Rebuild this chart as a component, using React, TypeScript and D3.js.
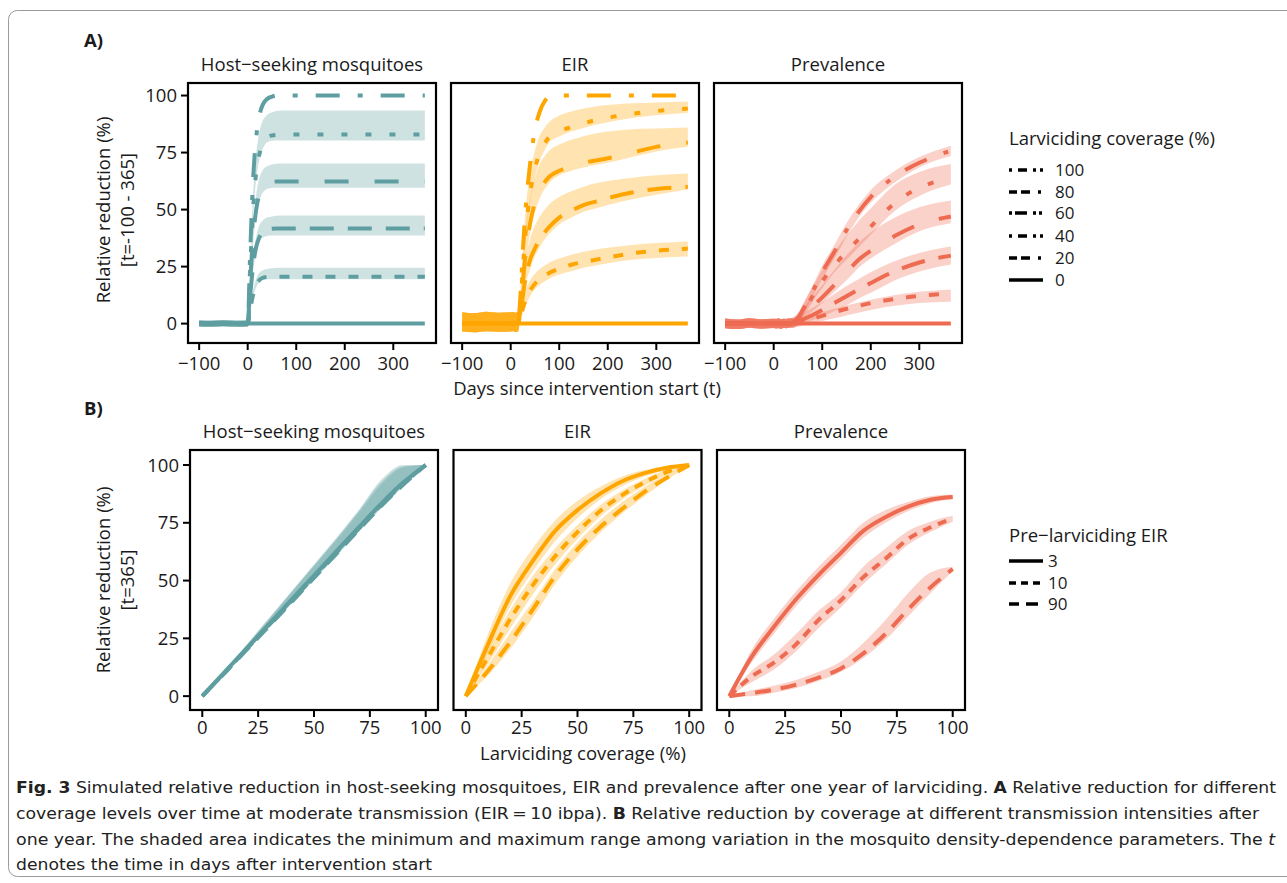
import React from "react";
import * as d3 from "d3";

// ---------- Panel A: reduction over time (EIR = 10) ----------
const days = [-100, -75, -50, -25, 0, 5, 10, 15, 20, 25, 30, 40, 50, 60, 70, 80, 100, 125, 150, 175, 200, 250, 300, 365];
const coverageLevels = ["100", "80", "60", "40", "20", "0"];

const hostLines = [
  [0, 0, 0, 0, 0, 30, 58, 76, 86, 92, 95.5, 98.5, 99.5, 100, 100, 100, 100, 100, 100, 100, 100, 100, 100, 100],
  [0, 0, 0, 0, 0, 24, 46, 61, 70, 75, 78.5, 81.5, 82.5, 82.8, 82.9, 82.9, 82.9, 82.9, 82.9, 82.9, 82.9, 82.9, 82.9, 82.9],
  [0, 0, 0, 0, 0, 18, 35, 46, 53, 57, 59.5, 61.5, 62.1, 62.3, 62.3, 62.3, 62.3, 62.3, 62.3, 62.3, 62.3, 62.3, 62.3, 62.3],
  [0, 0, 0, 0, 0, 12, 23, 31, 35.5, 38.3, 40, 41.2, 41.6, 41.7, 41.7, 41.7, 41.7, 41.7, 41.7, 41.7, 41.7, 41.7, 41.7, 41.7],
  [0, 0, 0, 0, 0, 6, 11.5, 15.5, 18, 19.3, 20, 20.5, 20.6, 20.6, 20.6, 20.6, 20.6, 20.6, 20.6, 20.6, 20.6, 20.6, 20.6, 20.6],
  [0, 0, 0, 0, 0, 0, 0, 0, 0, 0, 0, 0, 0, 0, 0, 0, 0, 0, 0, 0, 0, 0, 0, 0],
];
const hostHi = [
  [1.4, 1.3, 1.5, 1.3, 1.4, 30, 58, 76, 86, 92, 95.5, 98.5, 99.5, 100, 100, 100, 100, 100, 100, 100, 100, 100, 100, 100],
  [1.4, 1.3, 1.5, 1.3, 1.4, 27, 52, 69, 79, 85, 88.5, 91.5, 92.7, 93.2, 93.4, 93.4, 93.4, 93.4, 93.4, 93.4, 93.4, 93.4, 93.4, 93.4],
  [1.4, 1.3, 1.5, 1.3, 1.4, 20, 39, 52, 60, 64.5, 67, 69, 69.8, 70.1, 70.2, 70.2, 70.2, 70.2, 70.2, 70.2, 70.2, 70.2, 70.2, 70.2],
  [1.4, 1.3, 1.5, 1.3, 1.4, 13, 26, 35, 40.5, 43.5, 45, 46.5, 47, 47.3, 47.4, 47.4, 47.4, 47.4, 47.4, 47.4, 47.4, 47.4, 47.4, 47.4],
  [1.4, 1.3, 1.5, 1.3, 1.4, 7, 13.5, 18, 21, 22.5, 23.3, 24, 24.3, 24.5, 24.5, 24.5, 24.5, 24.5, 24.5, 24.5, 24.5, 24.5, 24.5, 24.5],
  [1.4, 1.3, 1.5, 1.3, 1.4, 0, 0, 0, 0, 0, 0, 0, 0, 0, 0, 0, 0, 0, 0, 0, 0, 0, 0, 0],
];
const hostLo = [
  [-1.3, -1.4, -1.2, -1.4, -1.3, 30, 58, 76, 86, 92, 95.5, 98.5, 99.5, 100, 100, 100, 100, 100, 100, 100, 100, 100, 100, 100],
  [-1.3, -1.4, -1.2, -1.4, -1.3, 22, 43, 58, 67, 72.5, 76, 79.5, 80.2, 80.3, 80.3, 80.3, 80.3, 80.3, 80.3, 80.3, 80.3, 80.3, 80.3, 80.3],
  [-1.3, -1.4, -1.2, -1.4, -1.3, 16, 32, 43, 50, 54.5, 57, 59, 59.5, 59.6, 59.6, 59.6, 59.6, 59.6, 59.6, 59.6, 59.6, 59.6, 59.6, 59.6],
  [-1.3, -1.4, -1.2, -1.4, -1.3, 10.5, 21, 28.5, 33, 36, 37.5, 38.4, 38.6, 38.6, 38.6, 38.6, 38.6, 38.6, 38.6, 38.6, 38.6, 38.6, 38.6, 38.6],
  [-1.3, -1.4, -1.2, -1.4, -1.3, 5, 10.5, 14.5, 17, 18.3, 19, 19.4, 19.5, 19.5, 19.5, 19.5, 19.5, 19.5, 19.5, 19.5, 19.5, 19.5, 19.5, 19.5],
  [-1.3, -1.4, -1.2, -1.4, -1.3, 0, 0, 0, 0, 0, 0, 0, 0, 0, 0, 0, 0, 0, 0, 0, 0, 0, 0, 0],
];

const eirLines = [
  [0, 0, 0, 0, 0, 0, 0, 0, 12, 32, 48, 70, 85, 93, 97.5, 99.5, 100, 100, 100, 100, 100, 100, 100, 100],
  [0, 0, 0, 0, 0, 0, 0, 0, 9, 24, 38, 57, 68, 75, 79, 82, 84.2, 86.2, 87.8, 89.2, 90.3, 92, 93.2, 94.3],
  [0, 0, 0, 0, 0, 0, 0, 0, 7, 18, 29, 44, 53, 58.5, 62, 64.5, 67, 69, 70.5, 71.5, 72.5, 75, 77.5, 79.4],
  [0, 0, 0, 0, 0, 0, 0, 0, 5, 12, 19, 28, 33, 37, 40, 42.5, 46.5, 49.5, 52, 53.5, 55, 57.5, 59, 60],
  [0, 0, 0, 0, 0, 0, 0, 0, 2.5, 6.5, 10, 14.5, 17.5, 19.5, 21, 22.3, 24, 25.8, 27, 28, 29, 30.8, 32, 32.9],
  [0, 0, 0, 0, 0, 0, 0, 0, 0, 0, 0, 0, 0, 0, 0, 0, 0, 0, 0, 0, 0, 0, 0, 0],
];
const eirHi = [
  [5, 4.6, 5.2, 4.8, 5, 5.1, 4.8, 5, 12, 32, 48, 70, 85, 93, 97.5, 99.5, 100, 100, 100, 100, 100, 100, 100, 100],
  [5, 4.6, 5.2, 4.8, 5, 5.1, 4.8, 5, 14, 32, 48, 66, 76, 82.5, 86, 88.5, 91.2, 93, 94.3, 95.2, 95.8, 96.6, 97, 97.4],
  [5, 4.6, 5.2, 4.8, 5, 5.1, 4.8, 5, 12, 27, 40, 55, 64, 70, 73.5, 76, 78.5, 80.6, 82.2, 83.4, 84.2, 85.2, 85.6, 86],
  [5, 4.6, 5.2, 4.8, 5, 5.1, 4.8, 5, 9, 18, 27, 37, 43, 47, 50, 52.5, 55.5, 58, 60, 61.5, 62.5, 64, 65, 65.8],
  [5, 4.6, 5.2, 4.8, 5, 5.1, 4.8, 5, 5, 9.5, 14, 19, 22, 24, 25.5, 26.8, 28.5, 30.2, 31.5, 32.5, 33.3, 34.5, 35.3, 36],
  [5, 4.6, 5.2, 4.8, 5, 5.1, 4.8, 5, 0, 0, 0, 0, 0, 0, 0, 0, 0, 0, 0, 0, 0, 0, 0, 0],
];
const eirLo = [
  [-3.5, -3.8, -3.3, -3.6, -3.5, -3.4, -3.7, -3.5, 12, 32, 48, 70, 85, 93, 97.5, 99.5, 100, 100, 100, 100, 100, 100, 100, 100],
  [-3.5, -3.8, -3.3, -3.6, -3.5, -3.4, -3.7, -3.5, 7, 21, 34, 53, 64, 71.5, 76, 79.5, 82, 84.2, 85.8, 87.2, 88.3, 90.2, 91.4, 92.5],
  [-3.5, -3.8, -3.3, -3.6, -3.5, -3.4, -3.7, -3.5, 5, 15, 25, 40, 49, 55, 59, 61.8, 65, 67, 68.5, 69.5, 70.5, 73, 75.5, 77.6],
  [-3.5, -3.8, -3.3, -3.6, -3.5, -3.4, -3.7, -3.5, 3, 9, 16, 24, 29.5, 33.5, 37, 39.5, 43.5, 46.5, 49, 50.5, 52, 54.5, 56.5, 58.8],
  [-3.5, -3.8, -3.3, -3.6, -3.5, -3.4, -3.7, -3.5, 1, 4.5, 7.5, 12, 15, 17, 18.5, 19.8, 21.5, 23, 24.5, 25.5, 26.5, 28, 28.8, 29.4],
  [-3.5, -3.8, -3.3, -3.6, -3.5, -3.4, -3.7, -3.5, 0, 0, 0, 0, 0, 0, 0, 0, 0, 0, 0, 0, 0, 0, 0, 0],
];

const prevLines = [
  [0, 0, 0, 0, 0, 0, 0, 0, 0, 0, 0, 0.5, 2.5, 6, 10, 14, 22.5, 31.5, 41, 49, 55.5, 64.5, 70.5, 75.8],
  [0, 0, 0, 0, 0, 0, 0, 0, 0, 0, 0, 0.5, 2, 5, 8.5, 12, 18.5, 25.5, 31.5, 37, 42.5, 53, 59.5, 64],
  [0, 0, 0, 0, 0, 0, 0, 0, 0, 0, 0, 0.3, 1.5, 3.5, 5.5, 7.5, 11.5, 17, 22.5, 28, 32, 38.5, 43.5, 47],
  [0, 0, 0, 0, 0, 0, 0, 0, 0, 0, 0, 0.2, 0.8, 1.8, 2.8, 3.8, 6, 9, 12, 15, 17.8, 23, 26.8, 29.8],
  [0, 0, 0, 0, 0, 0, 0, 0, 0, 0, 0, 0.1, 0.4, 1, 1.6, 2.2, 3.4, 5, 6.5, 7.8, 9, 10.8, 12.2, 13.2],
  [0, 0, 0, 0, 0, 0, 0, 0, 0, 0, 0, 0, 0, 0, 0, 0, 0, 0, 0, 0, 0, 0, 0, 0],
];
const prevHi = [
  [2.2, 1.8, 2.4, 1.9, 2.1, 2.0, 2.3, 1.9, 2.1, 2.0, 2.2, 2.8, 4.5, 8.5, 12.5, 16.5, 25.5, 34.5, 44, 52, 58.5, 67, 73, 78],
  [2.2, 1.8, 2.4, 1.9, 2.1, 2.0, 2.3, 1.9, 2.1, 2.0, 2.2, 2.6, 4.5, 8, 12, 16, 23.5, 31.5, 38.5, 45, 50.5, 61, 66.5, 70],
  [2.2, 1.8, 2.4, 1.9, 2.1, 2.0, 2.3, 1.9, 2.1, 2.0, 2.2, 2.4, 3.8, 6.5, 9.5, 12, 17, 23.5, 30, 35.5, 40, 46.5, 51, 54],
  [2.2, 1.8, 2.4, 1.9, 2.1, 2.0, 2.3, 1.9, 2.1, 2.0, 2.2, 2.3, 3, 4.3, 5.8, 7, 9.5, 13, 16.5, 19.5, 22.5, 27.5, 31, 33.8],
  [2.2, 1.8, 2.4, 1.9, 2.1, 2.0, 2.3, 1.9, 2.1, 2.0, 2.2, 2.2, 2.4, 2.8, 3.3, 3.8, 5, 6.5, 8, 9.3, 10.5, 12.5, 14, 15],
  [2.2, 1.8, 2.4, 1.9, 2.1, 2.0, 2.3, 1.9, 2.1, 2.0, 2.2, 2, 0.5, 0, 0, 0, 0, 0, 0, 0, 0, 0, 0, 0],
];
const prevLo = [
  [-2.0, -2.4, -1.8, -2.2, -1.9, -2.1, -2.0, -2.3, -1.9, -2.0, -1.8, -1.2, 0.5, 3.5, 7.5, 11.5, 19.5, 28.5, 38, 46.5, 53, 62, 68.5, 73.5],
  [-2.0, -2.4, -1.8, -2.2, -1.9, -2.1, -2.0, -2.3, -1.9, -2.0, -1.8, -1.3, 0.2, 3, 6, 9.5, 15.5, 22.5, 28, 33.5, 39, 49.5, 56, 61],
  [-2.0, -2.4, -1.8, -2.2, -1.9, -2.1, -2.0, -2.3, -1.9, -2.0, -1.8, -1.5, -0.2, 1.8, 3.5, 5.5, 9, 14, 19, 24.5, 28.5, 35, 40.5, 44],
  [-2.0, -2.4, -1.8, -2.2, -1.9, -2.1, -2.0, -2.3, -1.9, -2.0, -1.8, -1.7, -1, 0, 0.8, 1.5, 3, 5.5, 8, 11, 13.5, 19, 22.8, 25.9],
  [-2.0, -2.4, -1.8, -2.2, -1.9, -2.1, -2.0, -2.3, -1.9, -2.0, -1.8, -1.8, -1.4, -0.8, -0.3, 0.2, 1.2, 2.3, 3.6, 4.8, 6, 7.8, 9, 9.6],
  [-2.0, -2.4, -1.8, -2.2, -1.9, -2.1, -2.0, -2.3, -1.9, -2.0, -1.8, -2, -0.5, 0, 0, 0, 0, 0, 0, 0, 0, 0, 0, 0],
];

// ---------- Panel B: reduction at t=365 by coverage ----------
const coverage = [0, 10, 20, 30, 40, 50, 60, 70, 80, 90, 100];
const eirLevels = ["3", "10", "90"];

const hostBLines = [
  [0, 10.4, 20.8, 31.3, 41.8, 52.2, 62.6, 73, 83.2, 92.5, 100],
  [0, 10.2, 20.5, 30.9, 41.3, 51.7, 62.1, 72.5, 82.7, 92, 100],
  [0, 10, 20.2, 30.5, 40.8, 51.2, 61.6, 72, 82.2, 91.6, 100],
];
const hostBHi = [
  [0, 11, 22.5, 34, 45.5, 57, 68.5, 80.5, 93.5, 100, 100],
  [0, 10.9, 22.3, 33.7, 45.2, 56.6, 68, 80, 92.5, 99.5, 100],
  [0, 10.8, 22, 33.4, 44.8, 56.2, 67.5, 79.3, 91.5, 99, 100],
];
const hostBLo = [
  [0, 9.6, 19.8, 30.1, 40.5, 50.9, 61.2, 71.6, 81.8, 91.2, 100],
  [0, 9.5, 19.6, 29.9, 40.2, 50.6, 60.9, 71.3, 81.5, 90.9, 100],
  [0, 9.4, 19.5, 29.7, 40, 50.3, 60.6, 71, 81.2, 90.7, 100],
];
const eirBLines = [
  [0, 22.5, 43.5, 58.5, 71.5, 80.5, 87.5, 93, 96.5, 98.8, 100],
  [0, 17, 33.5, 48, 60.5, 71, 80, 87, 92.5, 97, 100],
  [0, 11, 23.5, 37.5, 52, 63.5, 73, 81, 88.4, 94.5, 100],
];
const eirBHi = [
  [0, 27, 49, 64, 76, 84.5, 90.5, 95, 97.8, 99.5, 100],
  [0, 20, 37.5, 52, 64, 74, 82.5, 89, 94, 98, 100],
  [0, 13.5, 27.5, 41, 55, 66.5, 76, 84, 90.5, 96, 100],
];
const eirBLo = [
  [0, 19, 39, 54, 67, 77, 85, 90.8, 95, 98, 100],
  [0, 14, 29.5, 44, 57, 68, 77.5, 85, 91, 96, 100],
  [0, 9, 20.5, 34, 48.5, 60.5, 70.5, 79, 86.5, 93.5, 100],
];
const prevBLines = [
  [0, 17, 30, 42, 52.5, 62, 71.5, 77.5, 82, 85, 86.2],
  [0, 8.5, 14.5, 22.5, 33, 41.5, 51.5, 59.5, 68, 73, 76.8],
  [0, 1.3, 2.8, 5, 8, 12, 18.5, 27, 37.5, 47, 55],
];
const prevBHi = [
  [0, 20, 33.5, 45.5, 56, 65.5, 75, 80.5, 84, 86.5, 87.2],
  [0, 11, 18, 27, 37, 45, 56, 64, 71.5, 75.5, 78],
  [0, 2.5, 4.5, 7, 10.5, 15, 23, 33, 44.5, 53.5, 56],
];
const prevBLo = [
  [0, 14.5, 27, 39, 49.5, 59, 68.5, 75, 80, 83.5, 85.2],
  [0, 6, 11.5, 19.5, 29.5, 38.5, 48.5, 57, 65.5, 71, 75.5],
  [0, 0, 1.5, 3.5, 6.5, 10.5, 16.5, 24.5, 34.5, 44.5, 54],
];

const panelTitles = ["Host\u2212seeking mosquitoes", "EIR", "Prevalence"];
const dayTicks = [-100, 0, 100, 200, 300];
const covTicks = [0, 25, 50, 75, 100];
const yTicks = [0, 25, 50, 75, 100];

// ---------- styles ----------
const COLORS = ["#5F9EA0", "#FFA500", "#EE6A50"];
const dashA: Record<string, string | undefined> = {
  "100": "24 18 5 18", "80": "6 18", "60": "24 26", "40": "24 14", "20": "10 13", "0": undefined,
};
const keyDashA: Record<string, string | undefined> = {
  "100": "3 6 9 6 3 4 3", "80": "8 4 9 8 3", "60": "3 3 12 6 3 3 3", "40": "3 6 9 6 3 4 3", "20": "8 4 9 8 3", "0": undefined,
};
const dashB: Record<string, string | undefined> = { "3": undefined, "10": "9 7", "90": "16 10" };
const keyDashB: Record<string, string | undefined> = { "3": undefined, "10": "7 5 7 5 7", "90": "10 7 12" };

const FONT = "'Open Sans', 'Noto Sans', sans-serif";
const TXT = "#1a1a1a";
const FS = 18.5;
const LEG_FS = 17;

const PW = 248;
const aLefts = [188, 451, 714];
const bLefts = [190, 453.5, 717];
const A_TOP = 83, A_BOT = 343;
const B_TOP = 450, B_BOT = 710;

type PanelProps = {
  left: number; top: number; bottom: number; xDomain: [number, number]; yDomain: [number, number];
  xs: number[]; lines: number[][]; hi: number[][]; lo: number[][]; keys: string[];
  dash: Record<string, string | undefined>; color: string; xTickVals: number[]; showY: boolean; title: string;
  labelDy: number;
};

function Panel(p: PanelProps) {
  const x = d3.scaleLinear().domain(p.xDomain).range([p.left, p.left + PW]);
  const y = d3.scaleLinear().domain(p.yDomain).range([p.bottom, p.top]);
  const line = d3.line<number>().x((_, i) => x(p.xs[i])).y((d) => y(d)).curve(d3.curveMonotoneX);
  const fmt = d3.format("d");
  return (
    <g>
      <text x={p.left + PW / 2} y={p.top - 12} textAnchor="middle" fontFamily={FONT} fontSize={FS} fill={TXT}>{p.title}</text>
      {p.hi.map((h, k) => {
        const area = d3.area<number>()
          .x((_, i) => x(p.xs[i]))
          .y0((_, i) => y(p.lo[k][i]))
          .y1((d) => y(d))
          .curve(d3.curveMonotoneX);
        return <path key={"b" + k} d={area(h) || ""} fill={p.color} fillOpacity={0.3} stroke="none" />;
      })}
      {p.lines.map((l, k) => (
        <path key={"l" + k} d={line(l) || ""} fill="none" stroke={p.color} strokeWidth={4}
          strokeDasharray={p.dash[p.keys[k]]} />
      ))}
      <rect x={p.left} y={p.top} width={PW} height={p.bottom - p.top} fill="none" stroke="#000" strokeWidth={2.2} />
      {p.xTickVals.map((t) => (
        <g key={"xt" + t}>
          <line x1={x(t)} x2={x(t)} y1={p.bottom} y2={p.bottom + 7} stroke="#000" strokeWidth={2} />
          <text x={x(t)} y={p.bottom + p.labelDy} textAnchor="middle" fontFamily={FONT} fontSize={FS} fill={TXT}>{fmt(t)}</text>
        </g>
      ))}
      {p.showY && yTicks.map((t) => (
        <g key={"yt" + t}>
          <line x1={p.left - 7} x2={p.left} y1={y(t)} y2={y(t)} stroke="#000" strokeWidth={2} />
          <text x={p.left - 11} y={y(t) + 6.5} textAnchor="end" fontFamily={FONT} fontSize={FS} fill={TXT}>{t}</text>
        </g>
      ))}
    </g>
  );
}

function YTitle({ cy, second }: { cy: number; second: string }) {
  return (
    <g fontFamily={FONT} fontSize={FS} fill={TXT} textAnchor="middle">
      <text transform={`translate(110,${cy}) rotate(-90)`}>Relative reduction (%)</text>
      <text transform={`translate(134,${cy}) rotate(-90)`}>{second}</text>
    </g>
  );
}

const capFont = "'Liberation Sans Narrow', 'DejaVu Sans Condensed', 'Roboto Condensed', Roboto, sans-serif";

export default function App() {
  const aData = [
    { lines: hostLines, hi: hostHi, lo: hostLo },
    { lines: eirLines, hi: eirHi, lo: eirLo },
    { lines: prevLines, hi: prevHi, lo: prevLo },
  ];
  const bData = [
    { lines: hostBLines, hi: hostBHi, lo: hostBLo },
    { lines: eirBLines, hi: eirBHi, lo: eirBLo },
    { lines: prevBLines, hi: prevBHi, lo: prevBLo },
  ];
  const legA = 1009, legB = 1009;
  const legAy = [170, 192, 213, 236, 258, 280];
  const legBy = [561, 583, 604];
  return (
    <svg width={1287} height={883} style={{ position: "absolute", left: 0, top: 0, background: "#fff" }}>
      <rect x={8.5} y={10.5} width={1300} height={866} rx={9} fill="none" stroke="#9a9a9a" strokeWidth={1} />

      <text x={84} y={47} fontFamily={FONT} fontSize={FS} fontWeight="bold" fill={TXT}>A)</text>
      <text x={84} y={415} fontFamily={FONT} fontSize={FS} fontWeight="bold" fill={TXT}>B)</text>

      {aData.map((d, i) => (
        <Panel key={"A" + i} left={aLefts[i]} top={A_TOP} bottom={A_BOT} xDomain={[-123, 388]} yDomain={[-8.5, 105.5]}
          xs={days} lines={d.lines} hi={d.hi} lo={d.lo} keys={coverageLevels} dash={dashA} color={COLORS[i]}
          xTickVals={dayTicks} showY={i === 0} title={panelTitles[i]} labelDy={27} />
      ))}
      {bData.map((d, i) => (
        <Panel key={"B" + i} left={bLefts[i]} top={B_TOP} bottom={B_BOT} xDomain={[-5.5, 105.5]} yDomain={[-6, 106.5]}
          xs={coverage} lines={d.lines} hi={d.hi} lo={d.lo} keys={eirLevels} dash={dashB} color={COLORS[i]}
          xTickVals={covTicks} showY={i === 0} title={panelTitles[i]} labelDy={24} />
      ))}

      <YTitle cy={210} second="[t=-100 - 365]" />
      <YTitle cy={580} second="[t=365]" />
      <text x={587} y={395} textAnchor="middle" fontFamily={FONT} fontSize={FS} fill={TXT}>Days since intervention start (t)</text>
      <text x={583} y={760} textAnchor="middle" fontFamily={FONT} fontSize={FS} fill={TXT}>Larviciding coverage (%)</text>

      {/* legend A */}
      <text x={legA} y={145} fontFamily={FONT} fontSize={FS} fill={TXT}>Larviciding coverage (%)</text>
      {coverageLevels.map((c, i) => (
        <g key={"la" + c}>
          <line x1={legA} x2={legA + 34} y1={legAy[i]} y2={legAy[i]} stroke="#000" strokeWidth={3.5} strokeDasharray={keyDashA[c]} />
          <text x={legA + 46} y={legAy[i] + 6} fontFamily={FONT} fontSize={LEG_FS} fill={TXT}>{c}</text>
        </g>
      ))}
      {/* legend B */}
      <text x={legB} y={542} fontFamily={FONT} fontSize={FS} fill={TXT}>Pre{"\u2212"}larviciding EIR</text>
      {eirLevels.map((c, i) => (
        <g key={"lb" + c}>
          <line x1={legB} x2={legB + 34} y1={legBy[i]} y2={legBy[i]} stroke="#000" strokeWidth={3.5} strokeDasharray={keyDashB[c]} />
          <text x={legB + 39} y={legBy[i] + 6} fontFamily={FONT} fontSize={LEG_FS} fill={TXT}>{c}</text>
        </g>
      ))}

      {/* caption */}
      <g fontFamily={capFont} fontSize={16.5} fill="#222">
        <text x={16} y={793} textLength={1260} lengthAdjust="spacingAndGlyphs">
          <tspan fontWeight="bold">Fig. 3</tspan>
          {"  Simulated relative reduction in host-seeking mosquitoes, EIR and prevalence after one year of larviciding. "}
          <tspan fontWeight="bold">A</tspan>
          {" Relative reduction for different"}
        </text>
        <text x={16} y={819} textLength={1243} lengthAdjust="spacingAndGlyphs">
          {"coverage levels over time at moderate transmission (EIR\u2009=\u200910 ibpa). "}
          <tspan fontWeight="bold">B</tspan>
          {" Relative reduction by coverage at different transmission intensities after"}
        </text>
        <text x={16} y={845} textLength={1259} lengthAdjust="spacingAndGlyphs">
          {"one year. The shaded area indicates the minimum and maximum range among variation in the mosquito density-dependence parameters. The "}
          <tspan fontStyle="italic">t</tspan>
        </text>
        <text x={16} y={870} textLength={416} lengthAdjust="spacingAndGlyphs">
          denotes the time in days after intervention start
        </text>
      </g>
    </svg>
  );
}
